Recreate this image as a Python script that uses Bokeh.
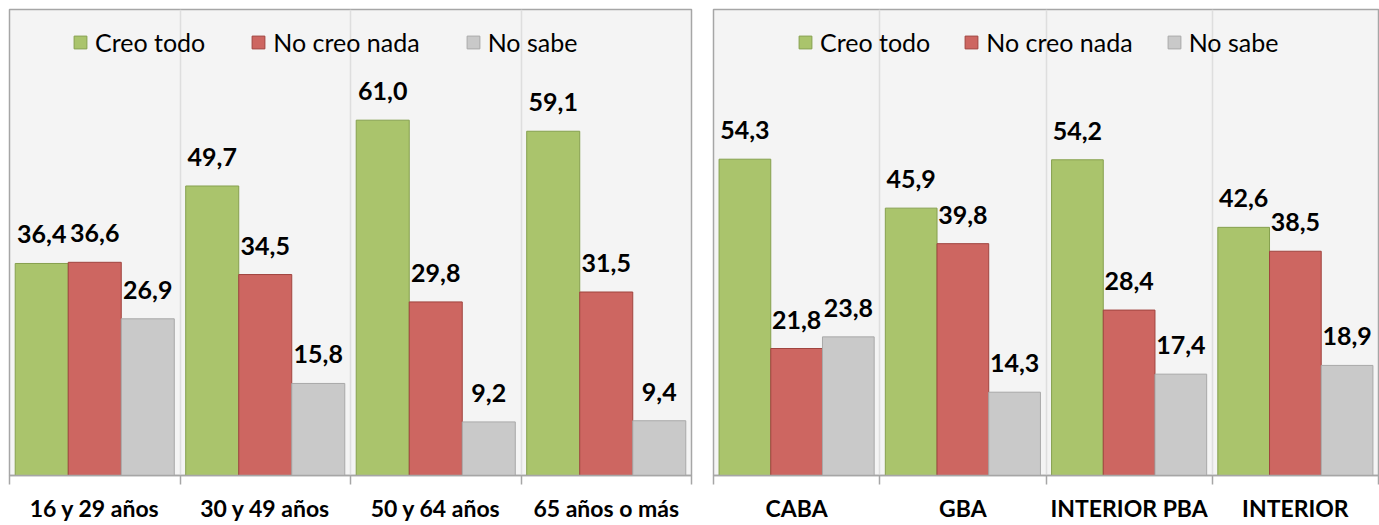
from bokeh.plotting import figure
from bokeh.models import Range1d, FixedTicker, Legend, LegendItem, ColumnDataSource
from bokeh.layouts import row
from bokeh.core.properties import value
from bokeh.embed import file_html
from bokeh.resources import INLINE

series_names = ["Creo todo", "No creo nada", "No sabe"]

age_cats = ["16 y 29 años", "30 y 49 años", "50 y 64 años", "65 años o más"]
age_creo = [36.4, 49.7, 61.0, 59.1]
age_nocreo = [36.6, 34.5, 29.8, 31.5]
age_nosabe = [26.9, 15.8, 9.2, 9.4]

region_cats = ["CABA", "GBA", "INTERIOR PBA", "INTERIOR"]
region_creo = [54.3, 45.9, 54.2, 42.6]
region_nocreo = [21.8, 39.8, 28.4, 38.5]
region_nosabe = [23.8, 14.3, 17.4, 18.9]

FILLS = ["#aac46c", "#cd6661", "#c9c9c9"]
LINES = ["#86a04e", "#a0443f", "#a9a9a9"]
BAR_W = 0.311
FONT = "Lato"
FRAME_H = 466


def make_panel(cats, series, frame_w, border_left, border_right, leg_x, leg_spacing):
    n = len(cats)
    p = figure(width=border_left + frame_w + border_right, height=525,
               x_range=Range1d(0, n), y_range=Range1d(0, 80),
               output_backend="svg", toolbar_location=None,
               y_axis_location=None,
               min_border_top=9, min_border_left=border_left,
               min_border_right=border_right, min_border_bottom=50,
               background_fill_color="#f4f4f4", border_fill_color="white",
               outline_line_color="#a6a6a6", outline_line_width=1.5)
    p.ygrid.visible = False
    p.xgrid.ticker = FixedTicker(ticks=list(range(1, n)))
    p.xgrid.grid_line_color = "#dedede"
    p.xgrid.grid_line_width = 1.5

    ax = p.xaxis[0]
    centers = [i + 0.5 for i in range(n)]
    ax.ticker = FixedTicker(ticks=centers, minor_ticks=list(range(0, n + 1)))
    ax.major_label_overrides = {c: lab for c, lab in zip(centers, cats)}
    ax.major_tick_out = 0
    ax.major_tick_in = 0
    ax.minor_tick_out = 9
    ax.minor_tick_in = 0
    ax.minor_tick_line_color = "#a6a6a6"
    ax.minor_tick_line_width = 1.5
    ax.axis_line_color = "#a6a6a6"
    ax.axis_line_width = 1.5
    ax.major_label_text_font = FONT
    ax.major_label_text_font_style = "bold"
    ax.major_label_text_font_size = "23px"
    ax.major_label_text_color = "black"
    ax.major_label_text_line_height = 0.9
    ax.major_label_standoff = 9

    items = []
    offsets = [-BAR_W, 0.0, BAR_W]
    for k, vals in enumerate(series):
        xs = [i + 0.5 + offsets[k] for i in range(n)]
        src = ColumnDataSource(dict(x=xs, top=vals,
                                    lab=[f"{v:.1f}".replace(".", ",") for v in vals]))
        r = p.vbar(x="x", top="top", width=BAR_W, source=src,
                   fill_color=FILLS[k], line_color=LINES[k], line_width=1)
        p.text(x="x", y="top", text="lab", source=src,
               text_font=value(FONT), text_font_style="bold",
               text_font_size="25px", text_align="center",
               text_baseline="alphabetic", y_offset=-29, text_color="black")
        items.append(LegendItem(label=series_names[k], renderers=[r]))

    leg = Legend(items=items, orientation="horizontal",
                 location=(leg_x, FRAME_H - 3 - 57),
                 label_text_font=FONT, label_text_font_size="25px",
                 label_text_color="black",
                 glyph_width=16, glyph_height=16, label_standoff=7,
                 spacing=leg_spacing, padding=12, margin=0,
                 background_fill_alpha=0, border_line_alpha=0)
    p.add_layout(leg)
    return p


p1 = make_panel(age_cats, [age_creo, age_nocreo, age_nosabe], 682, 9, 17, 51, 45)
p2 = make_panel(region_cats, [region_creo, region_nocreo, region_nosabe], 665, 5, 1, 72, 33)

layout = row(p1, p2)
open("out.html", "w").write(file_html(layout, INLINE))
